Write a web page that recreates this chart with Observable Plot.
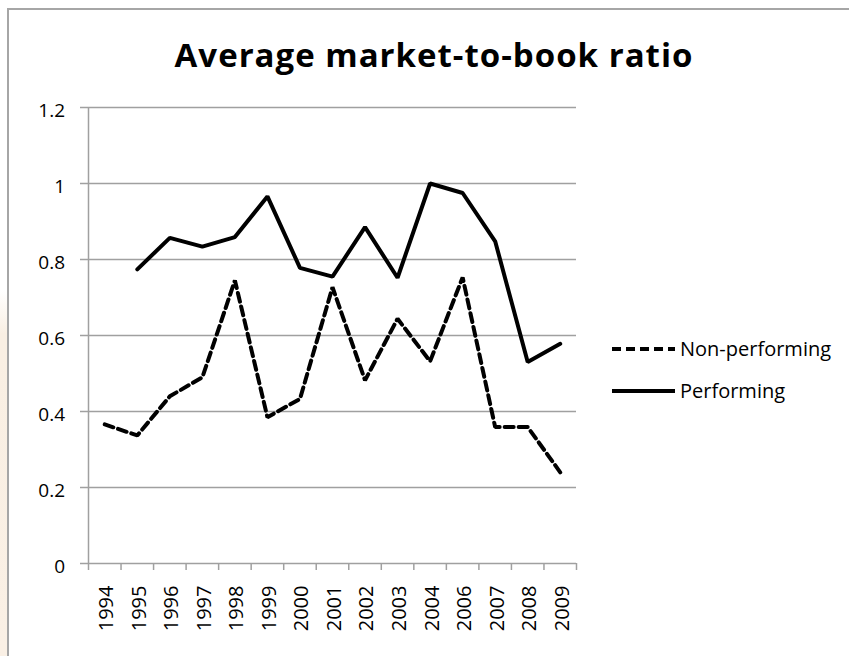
<!DOCTYPE html>
<html>
<head>
<meta charset="utf-8">
<script src="https://cdn.jsdelivr.net/npm/d3@7"></script>
<script src="https://cdn.jsdelivr.net/npm/@observablehq/plot@0.6"></script>
<style>
  html, body { margin: 0; padding: 0; background: #fff; }
  #wrap { position: relative; width: 849px; height: 656px; overflow: hidden; font-family: "Open Sans", sans-serif; }
  #tint { position: absolute; left: 0; top: 290px; width: 7px; height: 366px;
          background: linear-gradient(to bottom, rgba(249,238,225,0) 0%, #f9efe3 12%, #faf0e5 100%); }
  #frame { position: absolute; left: 7px; top: 8px; width: 860px; height: 700px; border-left: 2px solid #a6a6a6; border-top: 2px solid #a6a6a6; }
  #title { position: absolute; left: 0; top: 38px; width: 868px; text-align: center; font-weight: 700; font-size: 33px; line-height: 33px; letter-spacing: 1px; color: #000; }
  #plot { position: absolute; left: 0; top: 0; }
  .leg { position: absolute; left: 612px; height: 20px; display: flex; align-items: center; font-size: 20px; line-height: 20px; color: #000; }
  .leg svg { display: block; margin-right: 5px; }
</style>
</head>
<body>
<div id="wrap">
  <div id="tint"></div>
  <div id="frame"></div>
  <div id="plot"></div>
  <div id="title"></div>
  <div id="legend"></div>
</div>
<script>
// ---- data ----
const title = "Average market-to-book ratio";
const years = ["1994","1995","1996","1997","1998","1999","2000","2001","2002","2003","2004","2006","2007","2008","2009"];
const nonPerforming = [0.366, 0.337, 0.44, 0.49, 0.745, 0.385, 0.433, 0.727, 0.482, 0.644, 0.532, 0.753, 0.359, 0.359, 0.24];
const performing = [null, 0.774, 0.857, 0.834, 0.859, 0.966, 0.778, 0.755, 0.885, 0.752, 1.0, 0.975, 0.848, 0.53, 0.578];
const yTicks = [0, 0.2, 0.4, 0.6, 0.8, 1, 1.2];
const seriesNames = ["Non-performing", "Performing"];
// ---------------

const idx = years.map((_, i) => i);
const edges = years.map((_, i) => i - 0.5).concat([years.length - 0.5]);
const nonData = idx.map(i => ({i, v: nonPerforming[i]}));
const perfData = idx.map(i => ({i, v: performing[i]}));

const GRID = "#a0a0a0";
const dash = "9,5";

const chart = Plot.plot({
  width: 849,
  height: 656,
  marginTop: 107,
  marginBottom: 93,
  marginLeft: 88,
  marginRight: 273,
  style: { fontFamily: "Open Sans", fontSize: "19px", color: "#000", background: "transparent", overflow: "visible" },
  x: { type: "linear", domain: [-0.5, years.length - 0.5], axis: null, label: null },
  y: { domain: [0, 1.2], axis: null, label: null },
  marks: [
    Plot.ruleY(yTicks, { y: d => d, stroke: GRID, strokeWidth: 1.5, insetLeft: -8 }),
    Plot.ruleX([-0.5], { x: d => d, stroke: GRID, strokeWidth: 1.5 }),
    Plot.ruleX(edges, { x: d => d, y1: 0, y2: 0, insetBottom: -7, stroke: GRID, strokeWidth: 1.5 }),
    Plot.axisX({ ticks: idx, tickFormat: i => years[i], tickSize: 0, tickPadding: 22, tickRotate: -90, fontSize: 20, fill: "#000", dx: 2, label: null }),
    Plot.axisY({ ticks: yTicks, tickFormat: d => String(d), tickSize: 0, tickPadding: 23.5, fontSize: 19, fill: "#000", dy: 3, label: null }),
    Plot.line(nonData, { x: "i", y: "v", stroke: "#000", strokeWidth: 4, strokeDasharray: dash, strokeLinejoin: "miter" }),
    Plot.line(perfData, { x: "i", y: "v", stroke: "#000", strokeWidth: 4, strokeLinejoin: "miter" })
  ]
});
document.getElementById("plot").appendChild(chart);
document.getElementById("title").textContent = title;

// legend
const legend = document.getElementById("legend");
const legTops = [339, 381];
seriesNames.forEach((name, k) => {
  const row = document.createElement("div");
  row.className = "leg";
  row.style.top = legTops[k] + "px";
  const svgNS = "http://www.w3.org/2000/svg";
  const s = document.createElementNS(svgNS, "svg");
  s.setAttribute("width", 63); s.setAttribute("height", 10);
  const l = document.createElementNS(svgNS, "line");
  l.setAttribute("x1", 0); l.setAttribute("x2", 63); l.setAttribute("y1", 5); l.setAttribute("y2", 5);
  l.setAttribute("stroke", "#000"); l.setAttribute("stroke-width", 4);
  if (k === 0) l.setAttribute("stroke-dasharray", dash);
  s.appendChild(l);
  const t = document.createElement("span");
  t.textContent = name;
  row.appendChild(s); row.appendChild(t);
  legend.appendChild(row);
});
</script>
</body>
</html>
